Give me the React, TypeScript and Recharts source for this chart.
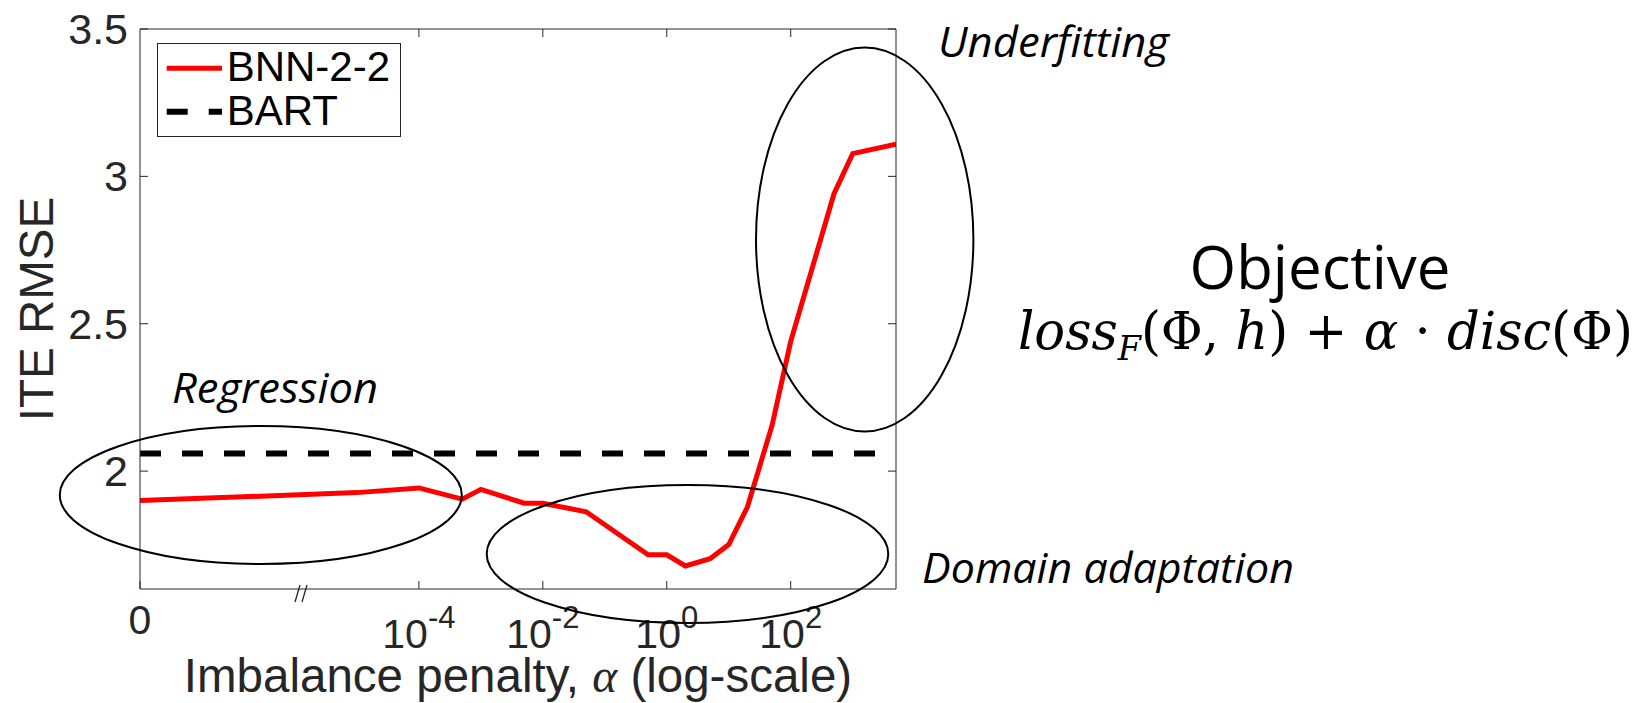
import React from "react";
import { LineChart, Line, XAxis, YAxis, Legend } from "recharts";

// imbalance penalty values (alpha) and the ITE RMSE
const ALPHAS = [0, 1e-5, 1e-4, 5e-4, 1e-3, 5e-3, 1e-2, 5e-2, 0.5, 1, 2, 5, 10, 20, 50, 100, 500, 1000, 5000];
const BNN_RMSE = [1.9, 1.927, 1.943, 1.905, 1.938, 1.891, 1.891, 1.862, 1.716, 1.716, 1.678, 1.703, 1.751, 1.878, 2.155, 2.44, 2.941, 3.077, 3.109];
const BART_RMSE = 2.06;
const SERIES_NAMES = ["BNN-2-2", "BART"];

// alpha = 0 is drawn left of the axis break, at this log10 position
const ZERO_POS = -8.5;
const X_MAX = Math.log10(5000);
const X_TICKS = [ZERO_POS, -4, -2, 0, 2];
const X_TICK_EXP = ["", "-4", "-2", "0", "2"];
const X_TOP_TICKS = [-4, -2, 0, 2];
const Y_TICKS = [2, 2.5, 3, 3.5];

const AXIS = "#262626";
const SANS = "'Liberation Sans', Arial, Helvetica, sans-serif";
const NOTE = "'Open Sans', 'Noto Sans', sans-serif";

const data = ALPHAS.map((a, i) => ({
  x: a === 0 ? ZERO_POS : Math.log10(a),
  bnn: BNN_RMSE[i],
  bart: BART_RMSE,
}));

function BottomTick(props: any) {
  const { x, y, payload } = props;
  const i = X_TICKS.indexOf(payload.value);
  const exp = X_TICK_EXP[i];
  return (
    <g>
      <line x1={x} x2={x} y1={y} y2={y - 8} stroke={AXIS} strokeWidth={1} />
      {exp === "" ? (
        <text x={x} y={y + 45} textAnchor="middle" fontSize={41} fill={AXIS} fontFamily={SANS}>
          0
        </text>
      ) : (
        <text x={x} y={y + 59} textAnchor="middle" fontSize={41} fill={AXIS} fontFamily={SANS}>
          10
          <tspan fontSize={31} dy={-20}>
            {exp}
          </tspan>
        </text>
      )}
    </g>
  );
}

function TopTick(props: any) {
  const { x, y } = props;
  return <line x1={x} x2={x} y1={y} y2={y + 8} stroke={AXIS} strokeWidth={1} />;
}

function LeftTick(props: any) {
  const { x, y, payload } = props;
  return (
    <g>
      <line x1={x} x2={x + 8} y1={y} y2={y} stroke={AXIS} strokeWidth={1} />
      <text x={x - 12} y={y + 15} textAnchor="end" fontSize={43} fill={AXIS} fontFamily={SANS}>
        {payload.value}
      </text>
    </g>
  );
}

function RightTick(props: any) {
  const { x, y } = props;
  return <line x1={x} x2={x - 8} y1={y} y2={y} stroke={AXIS} strokeWidth={1} />;
}

function LegendBox(props: any) {
  const items = [...(props.payload || [])].sort(
    (a: any, b: any) => SERIES_NAMES.indexOf(a.value) - SERIES_NAMES.indexOf(b.value)
  );
  return (
    <svg width={244} height={94} style={{ display: "block" }}>
      <rect x={0.5} y={0.5} width={243} height={93} fill="#fff" stroke={AXIS} strokeWidth={1} />
      {items.map((it: any, i: number) => {
        const cy = 25.3 + i * 43.4;
        const p = it.payload || {};
        return (
          <g key={it.value}>
            <line
              x1={9.7}
              x2={65}
              y1={cy}
              y2={cy}
              stroke={it.color}
              strokeWidth={p.strokeWidth || 5}
              strokeDasharray={p.strokeDasharray}
            />
            <text x={69.7} y={cy + 13} fontSize={42} fill="#000" fontFamily={SANS}>
              {it.value}
            </text>
          </g>
        );
      })}
    </svg>
  );
}

export default function App() {
  return (
    <div style={{ position: "absolute", left: 0, top: 0, width: 1636, height: 703, background: "#fff" }}>
      <LineChart width={1636} height={703} data={data} margin={{ top: 28, right: 739, bottom: 0, left: 0 }}>
        <XAxis
          xAxisId="bottom"
          dataKey="x"
          type="number"
          domain={[ZERO_POS, X_MAX]}
          ticks={X_TICKS}
          interval={0}
          allowDataOverflow
          height={114}
          tickSize={0}
          tickMargin={0}
          tickLine={false}
          tick={<BottomTick />}
          axisLine={{ stroke: AXIS, strokeWidth: 1 }}
          label={{
            content: (p: any) => {
              const vb = p.viewBox;
              return (
                <text x={vb.x + vb.width / 2} y={692} textAnchor="middle" fontSize={47.5} fill={AXIS} fontFamily={SANS}>
                  Imbalance penalty,{" "}
                  <tspan fontFamily="'Liberation Serif', 'DejaVu Serif', serif" fontStyle="italic">
                    α
                  </tspan>{" "}
                  (log-scale)
                </text>
              );
            },
          }}
        />
        <XAxis
          xAxisId="top"
          orientation="top"
          dataKey="x"
          type="number"
          domain={[ZERO_POS, X_MAX]}
          ticks={X_TOP_TICKS}
          interval={0}
          allowDataOverflow
          height={1}
          tickSize={0}
          tickMargin={0}
          tickLine={false}
          tick={<TopTick />}
          axisLine={{ stroke: AXIS, strokeWidth: 1 }}
        />
        <YAxis
          yAxisId="left"
          type="number"
          domain={[1.6, 3.5]}
          ticks={Y_TICKS}
          interval={0}
          allowDataOverflow
          width={140}
          tickSize={0}
          tickMargin={0}
          tickLine={false}
          tick={<LeftTick />}
          axisLine={{ stroke: AXIS, strokeWidth: 1 }}
          label={{
            content: (p: any) => {
              const vb = p.viewBox;
              const cy = vb.y + vb.height / 2;
              return (
                <text
                  x={53}
                  y={cy}
                  transform={`rotate(-90, 53, ${cy})`}
                  textAnchor="middle"
                  fontSize={47.5}
                  fill={AXIS}
                  fontFamily={SANS}
                >
                  ITE RMSE
                </text>
              );
            },
          }}
        />
        <YAxis
          yAxisId="right"
          orientation="right"
          type="number"
          domain={[1.6, 3.5]}
          ticks={Y_TICKS}
          interval={0}
          allowDataOverflow
          width={1}
          tickSize={0}
          tickMargin={0}
          tickLine={false}
          tick={<RightTick />}
          axisLine={{ stroke: AXIS, strokeWidth: 1 }}
        />
        <Legend
          layout="horizontal"
          verticalAlign="middle"
          align="center"
          width={244}
          height={94}
          itemSorter={(item: any) => SERIES_NAMES.indexOf(item.value)}
          wrapperStyle={{ left: 157, top: 43, width: 244, height: 94 }}
          content={<LegendBox />}
        />
        <Line
          xAxisId="bottom"
          yAxisId="left"
          type="linear"
          dataKey="bnn"
          name="BNN-2-2"
          stroke="#ff0000"
          strokeWidth={5}
          dot={false}
          activeDot={false}
          isAnimationActive={false}
        />
        <Line
          xAxisId="bottom"
          yAxisId="left"
          type="linear"
          dataKey="bart"
          name="BART"
          stroke="#000000"
          strokeWidth={6}
          strokeDasharray="21 21"
          dot={false}
          activeDot={false}
          isAnimationActive={false}
        />
      </LineChart>

      {/* hand-drawn annotations on top of the chart */}
      <svg width={1636} height={703} style={{ position: "absolute", left: 0, top: 0, pointerEvents: "none" }}>
        <line x1={295} y1={602} x2={300} y2={585} stroke={AXIS} strokeWidth={1.3} />
        <line x1={302} y1={602} x2={307} y2={585} stroke={AXIS} strokeWidth={1.3} />

        <ellipse cx={260.8} cy={495} rx={201} ry={69} fill="none" stroke="#000" strokeWidth={2} />
        <ellipse cx={687.5} cy={554} rx={200.8} ry={69} fill="none" stroke="#000" strokeWidth={2} />
        <ellipse cx={864.7} cy={239.5} rx={108.7} ry={192} fill="none" stroke="#000" strokeWidth={2} />

        <text x={938} y={57} fontSize={42} fontStyle="italic" fontFamily={NOTE} textLength={231} lengthAdjust="spacingAndGlyphs">
          Underfitting
        </text>
        <text x={172} y={403} fontSize={42} fontStyle="italic" fontFamily={NOTE} textLength={206} lengthAdjust="spacingAndGlyphs">
          Regression
        </text>
        <text x={922} y={583} fontSize={42} fontStyle="italic" fontFamily={NOTE} textLength={372} lengthAdjust="spacingAndGlyphs">
          Domain adaptation
        </text>

        <text x={1320} y={289} textAnchor="middle" fontSize={60} fontFamily={NOTE} textLength={261} lengthAdjust="spacingAndGlyphs">
          Objective
        </text>
        <text x={1018} y={349} fontSize={52} fontFamily="'DejaVu Serif', 'Liberation Serif', serif" textLength={615} lengthAdjust="spacingAndGlyphs">
          <tspan fontStyle="italic">loss</tspan>
          <tspan fontStyle="italic" fontSize={34} dy={11}>
            F
          </tspan>
          <tspan dy={-11}>(Φ, </tspan>
          <tspan fontStyle="italic">h</tspan>
          <tspan>) + </tspan>
          <tspan fontStyle="italic">α</tspan>
          <tspan> · </tspan>
          <tspan fontStyle="italic">disc</tspan>
          <tspan>(Φ)</tspan>
        </text>
      </svg>
    </div>
  );
}
